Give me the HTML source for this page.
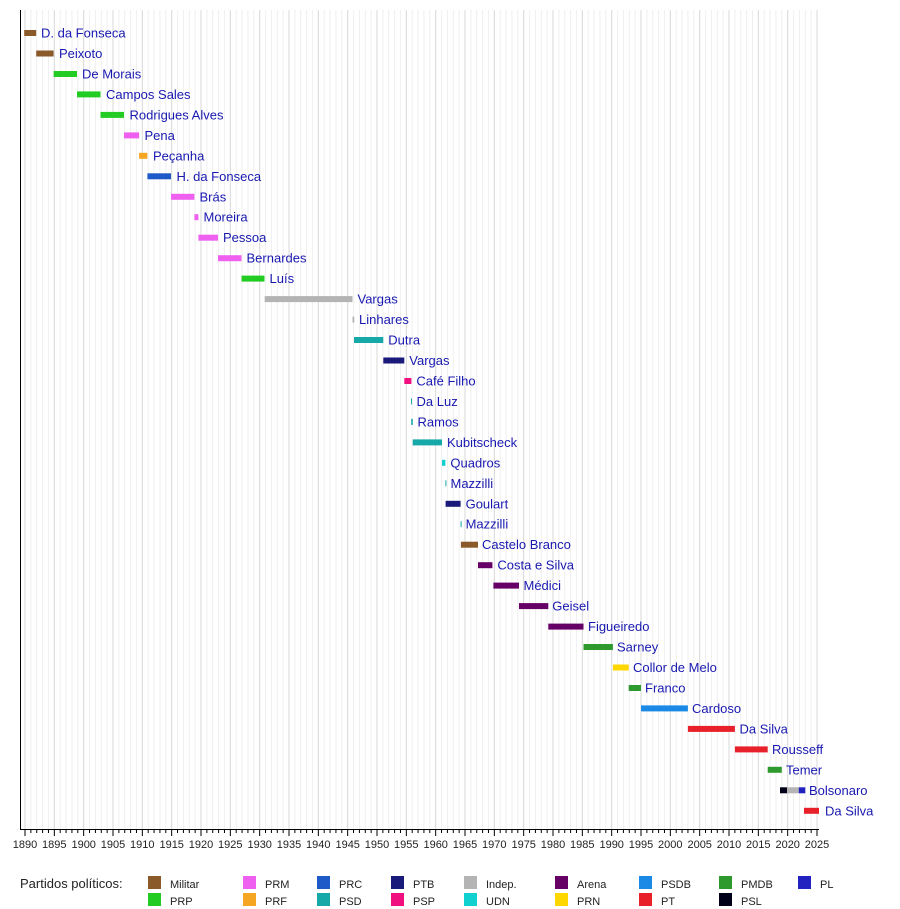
<!DOCTYPE html>
<html><head><meta charset="utf-8"><style>
html,body{margin:0;padding:0;background:#fff;}
svg{display:block;font-family:"Liberation Sans",sans-serif;}
.n{font-size:13px;fill:#1818b0;}
.t{font-size:11px;fill:#222;text-anchor:middle;}
.l{font-size:11px;fill:#222;}
</style></head><body>
<svg id="s" width="900" height="909" xmlns="http://www.w3.org/2000/svg">
<g id="grid"></g>
<line x1="20.5" y1="10" x2="20.5" y2="830" stroke="#000"/>
<line x1="20" y1="829.5" x2="819" y2="829.5" stroke="#000"/>
<g id="ticks"></g>
<g>
<rect x="24.2" y="30" width="12" height="6" fill="#8b5a2b"/><text class="n" x="41" y="37.5">D. da Fonseca</text>
<rect x="36.2" y="50.5" width="17.4" height="6" fill="#8b5a2b"/><text class="n" x="59" y="58">Peixoto</text>
<rect x="53.6" y="71" width="23.4" height="6" fill="#22cc22"/><text class="n" x="82" y="78.5">De Morais</text>
<rect x="77" y="91.4" width="23.5" height="6" fill="#22cc22"/><text class="n" x="106" y="99">Campos Sales</text>
<rect x="100.5" y="111.9" width="23.5" height="6" fill="#22cc22"/><text class="n" x="129.5" y="119.4">Rodrigues Alves</text>
<rect x="124" y="132.4" width="15.1" height="6" fill="#f060f0"/><text class="n" x="144.5" y="139.9">Pena</text>
<rect x="139.1" y="152.8" width="8.3" height="6" fill="#f5a623"/><text class="n" x="153" y="160.3">Peçanha</text>
<rect x="147.4" y="173.3" width="23.6" height="6" fill="#1f5bc8"/><text class="n" x="176.5" y="180.8">H. da Fonseca</text>
<rect x="171" y="193.8" width="23.4" height="6" fill="#f060f0"/><text class="n" x="199.5" y="201.3">Brás</text>
<rect x="194.4" y="214.2" width="4" height="6" fill="#f060f0"/><text class="n" x="203.5" y="221.7">Moreira</text>
<rect x="198.4" y="234.7" width="19.6" height="6" fill="#f060f0"/><text class="n" x="223" y="242.2">Pessoa</text>
<rect x="218" y="255.2" width="23.5" height="6" fill="#f060f0"/><text class="n" x="246.5" y="262.7">Bernardes</text>
<rect x="241.5" y="275.6" width="23" height="6" fill="#22cc22"/><text class="n" x="269.5" y="283.1">Luís</text>
<rect x="264.7" y="296.1" width="87.8" height="6" fill="#b4b4b4"/><text class="n" x="357.5" y="303.6">Vargas</text>
<rect x="352.5" y="316.6" width="1.8" height="6" fill="#b4b4b4"/><text class="n" x="359" y="324.1">Linhares</text>
<rect x="354" y="337" width="29.3" height="6" fill="#17a8a8"/><text class="n" x="388.3" y="344.5">Dutra</text>
<rect x="383.3" y="357.5" width="21" height="6" fill="#1a1a7a"/><text class="n" x="409.3" y="365">Vargas</text>
<rect x="404.3" y="378" width="7.1" height="6" fill="#f0107f"/><text class="n" x="416.4" y="385.5">Café Filho</text>
<rect x="411" y="398.4" width="1" height="6" fill="#17a8a8"/><text class="n" x="416.5" y="405.9">Da Luz</text>
<rect x="411.2" y="418.9" width="1.6" height="6" fill="#17a8a8"/><text class="n" x="417.5" y="426.4">Ramos</text>
<rect x="412.7" y="439.4" width="29.3" height="6" fill="#17a8a8"/><text class="n" x="447" y="446.9">Kubitscheck</text>
<rect x="442" y="459.8" width="3.4" height="6" fill="#10d0d0"/><text class="n" x="450.4" y="467.3">Quadros</text>
<rect x="445.4" y="480.3" width="1" height="6" fill="#17a8a8"/><text class="n" x="450.5" y="487.8">Mazzilli</text>
<rect x="445.6" y="500.8" width="15" height="6" fill="#1a1a7a"/><text class="n" x="465.6" y="508.3">Goulart</text>
<rect x="460.6" y="521.2" width="1" height="6" fill="#17a8a8"/><text class="n" x="465.6" y="528.7">Mazzilli</text>
<rect x="460.9" y="541.7" width="17.1" height="6" fill="#8b5a2b"/><text class="n" x="482" y="549.2">Castelo Branco</text>
<rect x="478" y="562.2" width="14.4" height="6" fill="#660066"/><text class="n" x="497.4" y="569.7">Costa e Silva</text>
<rect x="493.4" y="582.6" width="25.6" height="6" fill="#660066"/><text class="n" x="523.5" y="590.1">Médici</text>
<rect x="519" y="603.1" width="29.3" height="6" fill="#660066"/><text class="n" x="552.3" y="610.6">Geisel</text>
<rect x="548.3" y="623.6" width="35.2" height="6" fill="#660066"/><text class="n" x="588" y="631.1">Figueiredo</text>
<rect x="583.5" y="644" width="29.4" height="6" fill="#2e9a2e"/><text class="n" x="617" y="651.5">Sarney</text>
<rect x="612.9" y="664.5" width="15.8" height="6" fill="#ffd700"/><text class="n" x="633" y="672">Collor de Melo</text>
<rect x="628.7" y="685" width="12.3" height="6" fill="#2e9a2e"/><text class="n" x="645" y="692.5">Franco</text>
<rect x="641" y="705.4" width="46.9" height="6" fill="#1a8ae6"/><text class="n" x="692" y="712.9">Cardoso</text>
<rect x="687.9" y="725.9" width="47" height="6" fill="#e8202a"/><text class="n" x="739.5" y="733.4">Da Silva</text>
<rect x="734.9" y="746.4" width="32.8" height="6" fill="#e8202a"/><text class="n" x="772" y="753.9">Rousseff</text>
<rect x="767.7" y="766.8" width="14.1" height="6" fill="#2e9a2e"/><text class="n" x="786" y="774.3">Temer</text>
<rect x="780" y="787.3" width="7.1" height="6" fill="#000018"/><rect x="787.1" y="787.3" width="11.7" height="6" fill="#b4b4b4"/><rect x="798.8" y="787.3" width="6.5" height="6" fill="#2222c0"/><text class="n" x="809" y="794.8">Bolsonaro</text>
<rect x="804" y="807.8" width="15" height="6" fill="#e8202a"/><text class="n" x="825" y="815.3">Da Silva</text>
</g>
<g>
<text class="t" x="25" y="848">1890</text><text class="t" x="54.3" y="848">1895</text><text class="t" x="83.7" y="848">1900</text><text class="t" x="113" y="848">1905</text><text class="t" x="142.3" y="848">1910</text><text class="t" x="171.7" y="848">1915</text><text class="t" x="201" y="848">1920</text><text class="t" x="230.3" y="848">1925</text><text class="t" x="259.7" y="848">1930</text><text class="t" x="289" y="848">1935</text><text class="t" x="318.3" y="848">1940</text><text class="t" x="347.7" y="848">1945</text><text class="t" x="377" y="848">1950</text><text class="t" x="406.3" y="848">1955</text><text class="t" x="435.7" y="848">1960</text><text class="t" x="465" y="848">1965</text><text class="t" x="494.3" y="848">1970</text><text class="t" x="523.7" y="848">1975</text><text class="t" x="553" y="848">1980</text><text class="t" x="582.3" y="848">1985</text><text class="t" x="611.7" y="848">1990</text><text class="t" x="641" y="848">1995</text><text class="t" x="670.3" y="848">2000</text><text class="t" x="699.7" y="848">2005</text><text class="t" x="729" y="848">2010</text><text class="t" x="758.3" y="848">2015</text><text class="t" x="787.7" y="848">2020</text><text class="t" x="817" y="848">2025</text>
</g>
<g>
<text x="20" y="888" style="font-size:13px;fill:#222">Partidos políticos:</text>
<rect x="148" y="876" width="13" height="13" fill="#8b5a2b"/><text class="l" x="170" y="888">Militar</text>
<rect x="148" y="893" width="13" height="13" fill="#22cc22"/><text class="l" x="170" y="905">PRP</text>
<rect x="243" y="876" width="13" height="13" fill="#f060f0"/><text class="l" x="265" y="888">PRM</text>
<rect x="243" y="893" width="13" height="13" fill="#f5a623"/><text class="l" x="265" y="905">PRF</text>
<rect x="317" y="876" width="13" height="13" fill="#1f5bc8"/><text class="l" x="339" y="888">PRC</text>
<rect x="317" y="893" width="13" height="13" fill="#17a8a8"/><text class="l" x="339" y="905">PSD</text>
<rect x="391" y="876" width="13" height="13" fill="#1a1a7a"/><text class="l" x="413" y="888">PTB</text>
<rect x="391" y="893" width="13" height="13" fill="#f0107f"/><text class="l" x="413" y="905">PSP</text>
<rect x="464" y="876" width="13" height="13" fill="#b4b4b4"/><text class="l" x="486" y="888">Indep.</text>
<rect x="464" y="893" width="13" height="13" fill="#10d0d0"/><text class="l" x="486" y="905">UDN</text>
<rect x="555" y="876" width="13" height="13" fill="#660066"/><text class="l" x="577" y="888">Arena</text>
<rect x="555" y="893" width="13" height="13" fill="#ffd700"/><text class="l" x="577" y="905">PRN</text>
<rect x="639" y="876" width="13" height="13" fill="#1a8ae6"/><text class="l" x="661" y="888">PSDB</text>
<rect x="639" y="893" width="13" height="13" fill="#e8202a"/><text class="l" x="661" y="905">PT</text>
<rect x="719" y="876" width="13" height="13" fill="#2e9a2e"/><text class="l" x="741" y="888">PMDB</text>
<rect x="719" y="893" width="13" height="13" fill="#000018"/><text class="l" x="741" y="905">PSL</text>
<rect x="798" y="876" width="13" height="13" fill="#2222c0"/><text class="l" x="820" y="888">PL</text>
</g>
<script>
(function(){var ns="http://www.w3.org/2000/svg",g=document.getElementById("grid"),t=document.getElementById("ticks");
for(var y=1890;y<=2025;y++){var x=25+(y-1890)*5.8667;var m=(y%5==0);
var l=document.createElementNS(ns,"line");l.setAttribute("x1",x);l.setAttribute("x2",x);l.setAttribute("y1",10);l.setAttribute("y2",829);l.setAttribute("stroke",m?"#d8d8d8":"#efefef");l.setAttribute("stroke-width","1");g.appendChild(l);
var k=document.createElementNS(ns,"line");k.setAttribute("x1",x);k.setAttribute("x2",x);k.setAttribute("y1",830);k.setAttribute("y2",m?836:833);k.setAttribute("stroke","#000");t.appendChild(k);}})();
</script>
</svg>
</body></html>
